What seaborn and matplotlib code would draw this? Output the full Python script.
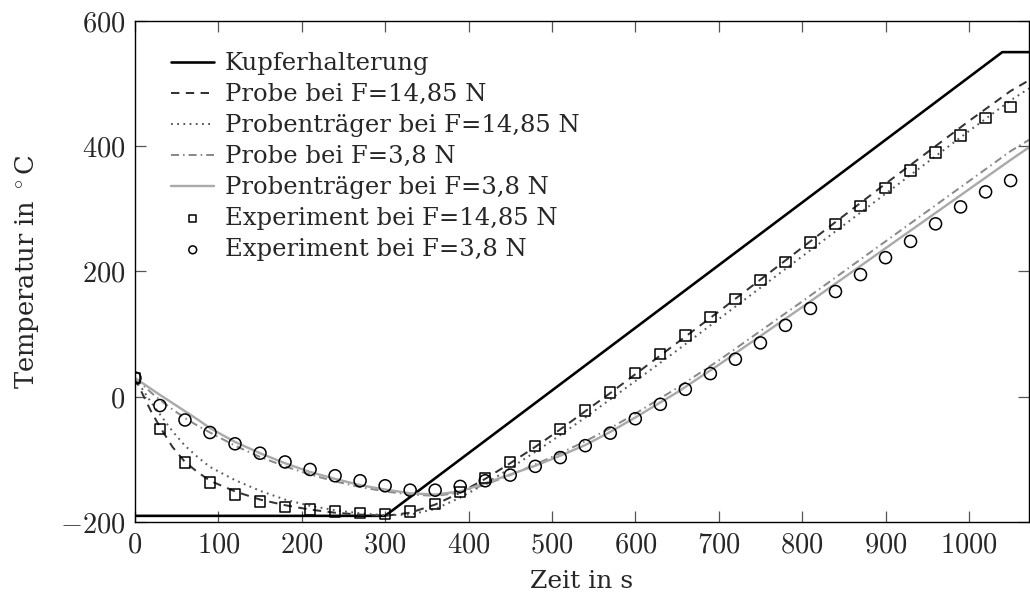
import numpy as np
import pandas as pd
import matplotlib
matplotlib.use("Agg")
import matplotlib.pyplot as plt
from matplotlib.ticker import FuncFormatter
import seaborn as sns

# ---------------- data ----------------
t_cu = [0, 300, 1040, 1072]
T_cu = [-190, -190, 550, 550]

t_sim = [0, 10, 20, 30, 45, 60, 75, 90, 120, 150, 180, 210, 240, 270, 300, 330, 360,
         390, 420, 450, 480, 510, 540, 570, 600, 650, 700, 750, 800, 850, 900, 950,
         1000, 1050, 1072]
probe_1485 = [30, 2, -25, -48, -80, -104, -120, -134, -151, -164, -173, -180, -185, -188,
              -190, -185, -172, -153, -131, -106, -80, -52, -23, 6, 36, 86, 136, 187, 238,
              289, 340, 390, 440, 488, 505]
traeger_1485 = [30, 10, -10, -28, -55, -78, -96, -112, -133, -150, -164, -174, -181, -186,
                -189, -188, -179, -161, -139, -114, -88, -61, -33, -4, 25, 74, 124, 174, 224,
                274, 324, 374, 424, 473, 492]
probe_38 = [30, 18, 6, -5, -20, -34, -46, -57, -78, -96, -111, -124, -135, -144, -151, -156,
            -158, -153, -140, -125, -108, -90, -71, -50, -27, 14, 58, 105, 152, 200, 248,
            296, 344, 392, 410]
traeger_38 = [30, 21, 12, 3, -10, -23, -36, -50, -72, -90, -106, -120, -131, -141, -148, -154,
              -156, -151, -138, -124, -110, -94, -77, -56, -33, 7, 51, 97, 143, 190, 237, 284,
              331, 378, 398]

t_exp = [0, 30, 60, 90, 120, 150, 180, 210, 240, 270, 300, 330, 360, 390, 420, 450, 480,
         510, 540, 570, 600, 630, 660, 690, 720, 750, 780, 810, 840, 870, 900, 930, 960,
         990, 1020, 1050]
exp_1485 = [30, -51, -105, -137, -156, -167, -176, -180, -183, -185, -187, -183, -171, -152,
            -130, -104, -78, -51, -22, 7, 38, 68, 98, 127, 156, 186, 215, 246, 276, 304, 333,
            361, 390, 417, 445, 462]
exp_38 = [30, -14, -37, -57, -75, -90, -104, -116, -126, -134, -142, -149, -149, -143, -134,
          -125, -111, -97, -78, -58, -35, -12, 12, 37, 60, 86, 114, 141, 168, 195, 222, 248,
          276, 303, 327, 345]

labels = ["Kupferhalterung", "Probe bei F=14,85 N", "Probenträger bei F=14,85 N",
          "Probe bei F=3,8 N", "Probenträger bei F=3,8 N",
          "Experiment bei F=14,85 N", "Experiment bei F=3,8 N"]
x_ticks = [0, 100, 200, 300, 400, 500, 600, 700, 800, 900, 1000]
y_ticks = [-200, 0, 200, 400, 600]

# ---------------- style ----------------
sns.set_style("ticks")
plt.rcParams["font.family"] = ["DejaVu Serif"]
plt.rcParams["mathtext.fontset"] = "cm"
plt.rcParams["font.size"] = 17

fig = plt.figure(figsize=(10.30, 5.94), dpi=100)
ax = fig.add_axes([0.131, 0.121, 0.868, 0.844])

px = 0.72  # points per pixel
sns.lineplot(x=t_cu, y=T_cu, ax=ax, color="black", lw=2.6 * px, label=labels[0])
sns.lineplot(x=t_sim, y=probe_1485, ax=ax, color="#333333", lw=2.0 * px,
             linestyle=(0, (4.2, 3.2)), label=labels[1])
sns.lineplot(x=t_sim, y=traeger_1485, ax=ax, color="#5a5a5a", lw=2.0 * px,
             linestyle=(0, (0.9, 2.2)), label=labels[2])
sns.lineplot(x=t_sim, y=probe_38, ax=ax, color="#8a8a8a", lw=2.0 * px,
             linestyle=(0, (4.0, 2.0, 0.8, 2.0)), label=labels[3])
sns.lineplot(x=t_sim, y=traeger_38, ax=ax, color="#aaaaaa", lw=2.4 * px,
             label=labels[4])
sns.scatterplot(x=t_exp, y=exp_1485, ax=ax, marker="s", s=55, facecolor="none",
                edgecolor="black", linewidth=1.1, label=labels[5], zorder=5)
sns.scatterplot(x=t_exp, y=exp_38, ax=ax, marker="o", s=75, facecolor="none",
                edgecolor="black", linewidth=1.1, label=labels[6], zorder=5)

ax.set_xlim(0, 1072)
ax.set_ylim(-200, 600)
ax.set_xticks(x_ticks)
ax.set_yticks(y_ticks)
fmt = FuncFormatter(lambda v, p: f"${v:g}$")
ax.xaxis.set_major_formatter(fmt)
ax.yaxis.set_major_formatter(fmt)
ax.tick_params(direction="in", length=8, width=0.9, color="#555555",
               top=True, right=True, labelsize=20.5, pad=7)
for sp in ax.spines.values():
    sp.set_visible(True)
    sp.set_color("black")
    sp.set_linewidth(1.0)

ax.set_xlabel("Zeit in s", fontsize=18, labelpad=8)
ax.set_ylabel("Temperatur in $^\\circ$C", fontsize=18.5, labelpad=13)

leg = ax.legend(loc="upper left", bbox_to_anchor=(0.03, 0.957), frameon=False,
                fontsize=17.5, handlelength=1.75, handletextpad=0.45,
                labelspacing=0.33, markerscale=0.65, borderaxespad=0.0)

fig.savefig("out.png", dpi=100)
